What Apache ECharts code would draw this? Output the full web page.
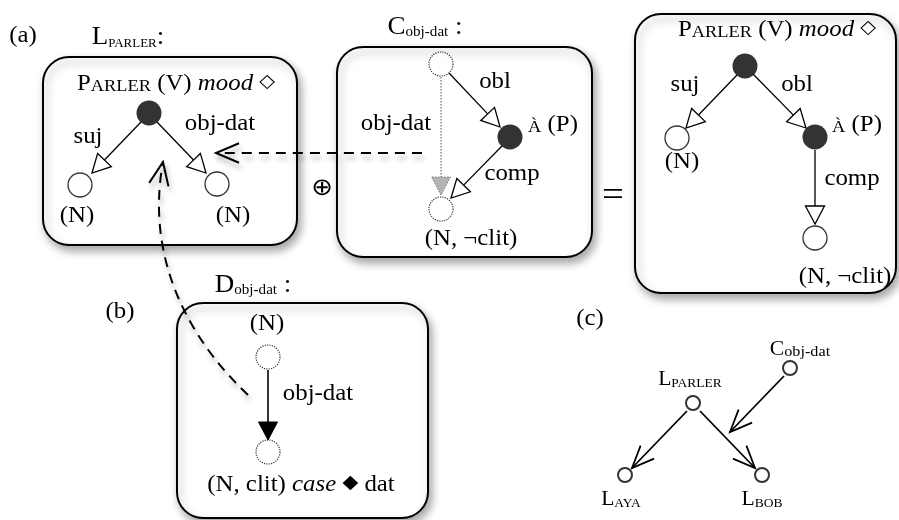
<!DOCTYPE html>
<html>
<head>
<meta charset="utf-8">
<script src="https://cdn.jsdelivr.net/npm/echarts@6/dist/echarts.min.js"></script>
<style>
html, body { margin: 0; padding: 0; background: #fff; }
#main { width: 899px; height: 520px; }
</style>
</head>
<body>
<div id="main"></div>
<script>
// diagram space: x 0..899, y 0..520 (y grows downwards)
var boxes = [[43, 57, 297, 245], [337, 47, 592, 257], [635, 14, 896, 293], [177, 303, 428, 518]];

var headNodes = [[149, 113], [510, 137], [745, 66], [815, 137]];
var openNodes = [[80, 185], [217, 184], [677, 138], [815, 238]];
var emptyNodes = [[441, 64], [441, 209], [268, 357], [268, 452]];
var treeNodes = [[790, 368], [693, 403], [625, 475], [762, 475]];

// from x, from y, tip x, tip y
var depEdges = [
    [141, 122, 92, 173], [157, 122, 206, 173],
    [449, 73, 500, 127], [502, 146, 451, 198],
    [737, 75, 686, 128], [753, 74, 806, 128], [815, 150, 815, 224]
];
var grayEdges = [[441, 77, 441, 195]];
var blackEdges = [[268, 370, 268, 440]];
var treeEdges = [[687, 411, 632, 468], [700, 411, 755, 468], [784, 376, 730, 432]];

// start, control 1, control 2, tip
var dashedPaths = [
    [422, 153, 350, 153, 280, 153, 216, 153],
    [248, 395, 190, 340, 145, 260, 163, 162]
];

var labelText = [
    '(a)', '{t|L}{ts|PARLER}{t|:}', '{a|P}{sc|ARLER}{a| (V) }{i|mood}{a| }{sym|◇}', 'suj', 'obj-dat', '(N)', '(N)',
    '{op|⊕}',
    '{t|C}{tsub|obj-dat}{t| :}', 'obj-dat', 'obl', '{sc|À}{a| (P)}', 'comp', '(N, ¬clit)',
    '{eq|=}',
    '{a|P}{sc|ARLER}{a| (V) }{i|mood}{a| }{sym|◇}', 'suj', 'obl', '{sc|À}{a| (P)}', '(N)', 'comp', '(N, ¬clit)',
    '(b)', '{t|D}{tsub|obj-dat}{t| :}', '(N)', 'obj-dat', '{a|(N, clit) }{i|case}{a| }{sym|◆}{a| dat}',
    '(c)', '{c|C}{csub|obj-dat}', '{c|L}{csc|PARLER}', '{c|L}{csc|AYA}', '{c|L}{csc|BOB}'
];
var labelPos = [
    [23, 36], [128, 37], [176, 84], [88, 137], [220, 124], [77, 216], [233, 216],
    [322, 189],
    [425, 27], [396, 124], [495, 82], [553, 125], [512, 174], [471, 239],
    [613, 197],
    [777, 30], [685, 85], [797, 85], [857, 125], [682, 162], [852, 179], [845, 277],
    [120, 312], [253, 285], [267, 324], [318, 394], [301, 485],
    [590, 319], [800, 350], [690, 380], [621, 500], [762, 500]
];

var serif = "'Liberation Serif', 'DejaVu Serif', serif";
var sans = "'DejaVu Sans', sans-serif";
var rich = {
    a: { fontSize: 23, lineHeight: 23, fontFamily: serif, verticalAlign: 'bottom' },
    i: { fontSize: 23, lineHeight: 23, fontFamily: serif, fontStyle: 'italic', verticalAlign: 'bottom' },
    sc: { fontSize: 17, lineHeight: 19, fontFamily: serif, verticalAlign: 'bottom' },
    sym: { fontSize: 19, lineHeight: 15, fontFamily: sans, verticalAlign: 'top' },
    op: { fontSize: 24, lineHeight: 24, fontFamily: sans, verticalAlign: 'bottom' },
    eq: { fontSize: 36, lineHeight: 36, fontFamily: serif, verticalAlign: 'bottom' },
    t: { fontSize: 25, lineHeight: 25, fontFamily: serif, verticalAlign: 'bottom' },
    ts: { fontSize: 12, lineHeight: 14, fontFamily: serif, verticalAlign: 'bottom' },
    tsub: { fontSize: 14, lineHeight: 11.6, fontFamily: serif, verticalAlign: 'bottom' },
    c: { fontSize: 20, lineHeight: 20, fontFamily: serif, verticalAlign: 'bottom' },
    csc: { fontSize: 12.5, lineHeight: 12.4, fontFamily: serif, verticalAlign: 'bottom' },
    csub: { fontSize: 15, lineHeight: 11.1, fontFamily: serif, verticalAlign: 'bottom' }
};

var shadow = { shadowColor: 'rgba(0,0,0,0.35)', shadowBlur: 9, shadowOffsetX: 3, shadowOffsetY: 5 };

function veeHead(tip, ux, uy, len, ang) {
    var c = Math.cos(ang) * len, s = Math.sin(ang) * len;
    return [
        [tip[0] - ux * c - uy * s, tip[1] - uy * c + ux * s],
        tip,
        [tip[0] - ux * c + uy * s, tip[1] - uy * c - ux * s]
    ];
}

function arrowShape(a, b, kind) {
    var dx = b[0] - a[0], dy = b[1] - a[1];
    var len = Math.sqrt(dx * dx + dy * dy);
    var ux = dx / len, uy = dy / len;
    if (kind == 'vee') {
        return {
            type: 'group',
            children: [
                { type: 'line', shape: { x1: a[0], y1: a[1], x2: b[0], y2: b[1] }, style: { stroke: '#000', lineWidth: 1.8 } },
                { type: 'polyline', shape: { points: veeHead(b, ux, uy, 24, 23 * Math.PI / 180) }, style: { stroke: '#000', lineWidth: 1.8, fill: null } }
            ]
        };
    }
    var L = 18, W = 9.5;
    var base = [b[0] - ux * L, b[1] - uy * L];
    var tri = [b, [base[0] - uy * W, base[1] + ux * W], [base[0] + uy * W, base[1] - ux * W]];
    var lineStyle = { stroke: '#000', lineWidth: 1.3 };
    var triStyle = { fill: '#fff', stroke: '#000', lineWidth: 1.3 };
    if (kind == 'gray') {
        lineStyle = { stroke: '#8a8a8a', lineWidth: 1.5, lineDash: [1.5, 1.5] };
        triStyle = { fill: '#b4b4b4', stroke: '#777', lineWidth: 1, lineDash: [1.5, 1.5] };
    } else if (kind == 'black') {
        lineStyle = { stroke: '#000', lineWidth: 1.6 };
        triStyle = { fill: '#000', stroke: '#000', lineWidth: 1 };
    }
    return {
        type: 'group',
        children: [
            { type: 'line', shape: { x1: a[0], y1: a[1], x2: base[0], y2: base[1] }, style: lineStyle },
            { type: 'polygon', shape: { points: tri }, style: triStyle }
        ]
    };
}

function edgeSeries(rows, kind) {
    return {
        type: 'custom',
        coordinateSystem: 'cartesian2d',
        data: rows,
        z: 3,
        silent: true,
        renderItem: function (params, api) {
            var a = api.coord([api.value(0), api.value(1)]);
            var b = api.coord([api.value(2), api.value(3)]);
            return arrowShape(a, b, kind);
        }
    };
}

function nodeSeries(rows, size, style) {
    return {
        type: 'scatter',
        data: rows,
        symbol: 'circle',
        symbolSize: size,
        itemStyle: style,
        z: 4,
        silent: true
    };
}

var myChart = echarts.init(document.getElementById('main'));
var option = {
    animation: false,
    backgroundColor: '#fff',
    grid: { left: 0, right: 0, top: 0, bottom: 0 },
    xAxis: { type: 'value', min: 0, max: 899, show: false },
    yAxis: { type: 'value', min: 0, max: 520, inverse: true, show: false },
    series: [
        {
            type: 'custom',
            coordinateSystem: 'cartesian2d',
            data: boxes,
            z: 1,
            silent: true,
            renderItem: function (params, api) {
                var p0 = api.coord([api.value(0), api.value(1)]);
                var p1 = api.coord([api.value(2), api.value(3)]);
                return {
                    type: 'rect',
                    shape: { x: p0[0], y: p0[1], width: p1[0] - p0[0], height: p1[1] - p0[1], r: 26 },
                    style: echarts.util.extend({ fill: '#fff', stroke: '#000', lineWidth: 2 }, shadow)
                };
            }
        },
        {
            type: 'custom',
            coordinateSystem: 'cartesian2d',
            data: dashedPaths,
            z: 2,
            silent: true,
            renderItem: function (params, api) {
                var p = [];
                for (var k = 0; k < 4; k++) {
                    p.push(api.coord([api.value(2 * k), api.value(2 * k + 1)]));
                }
                var dx = p[3][0] - p[2][0], dy = p[3][1] - p[2][1];
                var len = Math.sqrt(dx * dx + dy * dy);
                var st = { stroke: '#000', lineWidth: 2, fill: null, shadowColor: 'rgba(0,0,0,0.3)', shadowBlur: 5, shadowOffsetX: 2, shadowOffsetY: 5 };
                return {
                    type: 'group',
                    children: [
                        {
                            type: 'bezierCurve',
                            shape: { x1: p[0][0], y1: p[0][1], cpx1: p[1][0], cpy1: p[1][1], cpx2: p[2][0], cpy2: p[2][1], x2: p[3][0], y2: p[3][1] },
                            style: echarts.util.extend({ lineDash: [10, 7] }, st)
                        },
                        {
                            type: 'polyline',
                            shape: { points: veeHead(p[3], dx / len, dy / len, 25, 23 * Math.PI / 180) },
                            style: st
                        }
                    ]
                };
            }
        },
        edgeSeries(depEdges, 'open'),
        edgeSeries(grayEdges, 'gray'),
        edgeSeries(blackEdges, 'black'),
        edgeSeries(treeEdges, 'vee'),
        nodeSeries(headNodes, 25, { color: '#000' }),
        nodeSeries(openNodes, 24, { color: '#fff', borderColor: '#000', borderWidth: 1.3 }),
        nodeSeries(emptyNodes, 24, { color: '#fff', borderColor: '#000', borderWidth: 1.2, borderType: 'dotted' }),
        nodeSeries(treeNodes, 14, { color: '#fff', borderColor: '#000', borderWidth: 2 }),
        {
            type: 'custom',
            coordinateSystem: 'cartesian2d',
            data: labelPos,
            z: 5,
            silent: true,
            renderItem: function (params, api) {
                var p = api.coord([api.value(0), api.value(1)]);
                return {
                    type: 'text',
                    x: p[0],
                    y: p[1],
                    scaleX: 1.08,
                    style: {
                        text: labelText[params.dataIndex],
                        x: 0,
                        y: 0,
                        align: 'center',
                        verticalAlign: 'middle',
                        fill: '#000',
                        fontSize: 23,
                        fontFamily: serif,
                        lineHeight: 23,
                        rich: rich
                    }
                };
            }
        }
    ]
};
myChart.setOption(option);
</script>
</body>
</html>
